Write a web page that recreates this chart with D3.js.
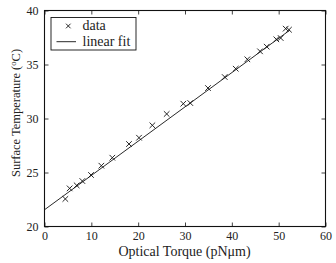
<!DOCTYPE html>
<html><head><meta charset="utf-8">
<script src="https://cdn.jsdelivr.net/npm/d3@7"></script>
<style>body{margin:0;background:#fff}svg{display:block}text{font-family:"Liberation Serif","DejaVu Serif",serif;fill:#222}</style>
</head><body><svg id="c" width="336" height="263"></svg>
<script>
const torque = [4.45,5.37,6.87,8.08,9.93,12.14,14.48,18.04,20.18,23.03,26.09,29.64,31.13,34.91,38.48,40.83,43.31,46.02,47.45,49.5,50.43,51.5,52.2];
const temperature = [22.55,23.53,23.81,24.21,24.77,25.63,26.37,27.64,28.22,29.37,30.42,31.37,31.43,32.82,33.84,34.61,35.48,36.22,36.65,37.33,37.45,38.32,38.22];
const fitIntercept = 21.55, fitSlope = 0.3175, fitRange = [0, 52.4];
const xTicks = [0,10,20,30,40,50,60];
const yTicks = [20,25,30,35,40];

const svg = d3.select("#c");
const L=44.5,R=325.5,T=10.5,B=226.5;
const x = d3.scaleLinear().domain([0,60]).range([L,R]);
const y = d3.scaleLinear().domain([20,40]).range([B,T]);
const ink="#111";

svg.append("line").attr("x1",x(fitRange[0])).attr("y1",y(fitIntercept+fitSlope*fitRange[0]))
  .attr("x2",x(fitRange[1])).attr("y2",y(fitIntercept+fitSlope*fitRange[1]))
  .attr("stroke",ink).attr("stroke-width",0.9);
const s=2.8;
const g=svg.append("g").attr("stroke",ink).attr("stroke-width",0.9);
torque.forEach((t,i)=>{
  const cx=x(t), cy=y(temperature[i]);
  g.append("path").attr("d",`M${cx-s},${cy-s}L${cx+s},${cy+s}M${cx-s},${cy+s}L${cx+s},${cy-s}`);
});

const tl=4;
svg.append("g").attr("transform",`translate(0,${B})`).call(d3.axisBottom(x).tickValues(xTicks).tickSize(-tl).tickPadding(5));
svg.append("g").attr("transform",`translate(0,${T})`).call(d3.axisTop(x).tickValues(xTicks).tickSize(-tl).tickFormat(""));
svg.append("g").attr("transform",`translate(${L},0)`).call(d3.axisLeft(y).tickValues(yTicks).tickSize(-tl).tickPadding(6));
svg.append("g").attr("transform",`translate(${R},0)`).call(d3.axisRight(y).tickValues(yTicks).tickSize(-tl).tickFormat(""));
svg.selectAll(".domain").remove();
svg.selectAll(".tick line").attr("stroke",ink).attr("stroke-width",0.8);
svg.selectAll(".tick text").style("font-size","12px").attr("fill","#222");
svg.append("rect").attr("x",L).attr("y",T).attr("width",R-L).attr("height",B-T).attr("fill","none").attr("stroke",ink).attr("stroke-width",1.1);

svg.append("text").attr("x",(L+R)/2-0.5).attr("y",256).attr("text-anchor","middle").style("font-size","14px").text("Optical Torque (pNμm)");
const yl=svg.append("text").attr("transform",`translate(19.5,113) rotate(-90)`).attr("text-anchor","middle").style("font-size","12.5px");
yl.append("tspan").text("Surface Temperature (");
yl.append("tspan").attr("dy",-4).style("font-size","8.5px").text("o");
yl.append("tspan").attr("dy",4).text("C)");

svg.append("rect").attr("x",51).attr("y",17.5).attr("width",85).attr("height",32.5).attr("fill","#fff").attr("stroke",ink).attr("stroke-width",0.9);
const lx=68.3, ly=26;
svg.append("path").attr("d",`M${lx-2.3},${ly-2.3}L${lx+2.3},${ly+2.3}M${lx-2.3},${ly+2.3}L${lx+2.3},${ly-2.3}`).attr("stroke",ink).attr("stroke-width",0.9);
svg.append("text").attr("x",82.5).attr("y",30).style("font-size","14px").text("data");
svg.append("line").attr("x1",56.5).attr("x2",76).attr("y1",41.7).attr("y2",41.7).attr("stroke",ink).attr("stroke-width",0.9);
svg.append("text").attr("x",82.5).attr("y",45.5).style("font-size","14px").text("linear fit");
</script></body></html>
